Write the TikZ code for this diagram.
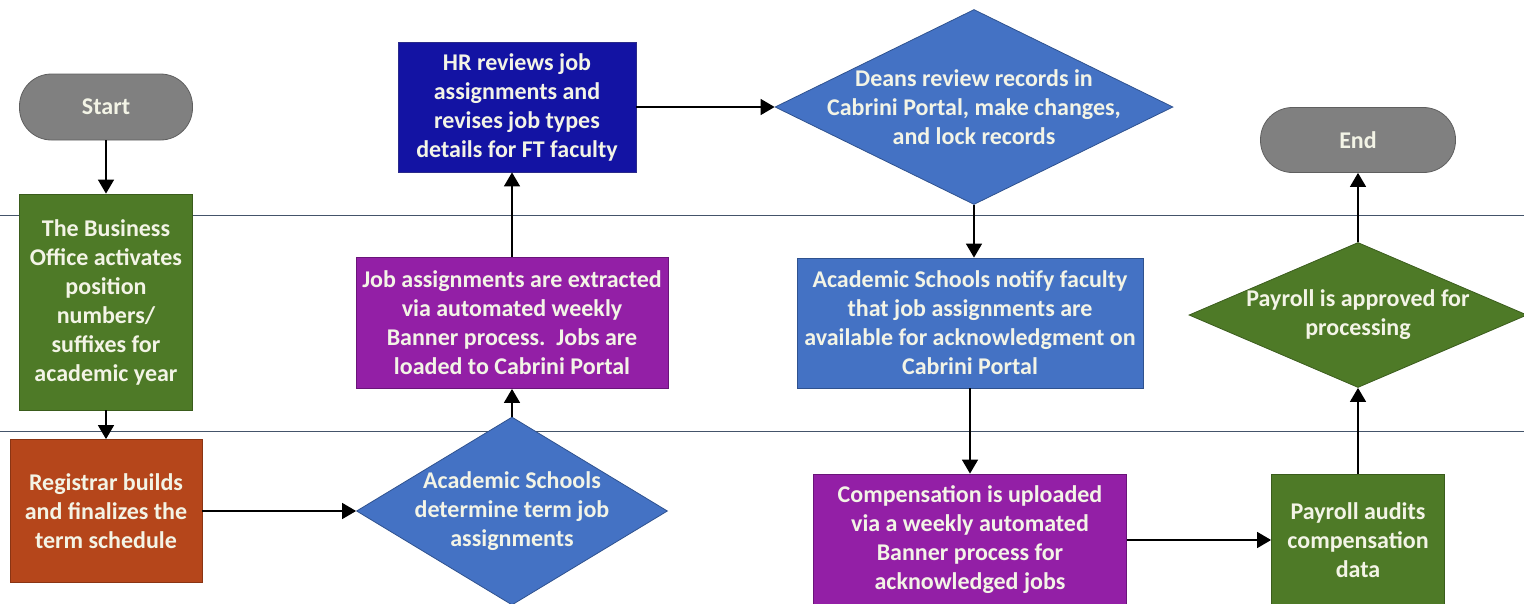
\documentclass[tikz,border=0pt]{standalone}
\usepackage{fontspec}
\setmainfont{Carlito}
\usepackage{tikz}
\usetikzlibrary{positioning, shapes.geometric, arrows.meta}
\definecolor{termgray}{HTML}{808080}
\definecolor{termline}{HTML}{5f5f5f}
\definecolor{bizgreen}{HTML}{4E7A27}
\definecolor{greenline}{HTML}{3A5C1C}
\definecolor{regrust}{HTML}{B5461B}
\definecolor{rustline}{HTML}{8A3413}
\definecolor{procblue}{HTML}{4472C4}
\definecolor{blueline}{HTML}{2F528F}
\definecolor{hrblue}{HTML}{1313A3}
\definecolor{hrline}{HTML}{2A2A8A}
\definecolor{portalpurple}{HTML}{931FA6}
\definecolor{purpleline}{HTML}{6A1479}
\definecolor{laneline}{HTML}{44546A}
\definecolor{boxtext}{HTML}{F3F4E6}

\begin{document}
\begin{tikzpicture}[x=1pt, y=-1pt,
 font=\bfseries\fontsize{24}{29}\selectfont,
 box/.style={draw, line width=0.8pt, text=boxtext, align=center, inner sep=0pt},
 term/.style={box, rounded corners=32pt, fill=termgray, draw=termline},
 dia/.style={box, diamond, inner sep=0pt},
 lane/.style={draw=laneline, line width=1pt},
 flow/.style={-{Triangle[width=16pt,length=14pt]}, line width=1.5pt}]
\useasboundingbox (0,0) rectangle (1524,603);

\draw[lane] (0,215) -- (1524,215);
\draw[lane] (0,431) -- (1524,431);

\node[term, minimum width=173pt, minimum height=66pt] (start) at (106,107) {Start};
\node[box, fill=bizgreen, draw=greenline, minimum width=173pt, minimum height=216pt] (bus) at (106,302)
  {The Business\\Office activates\\position\\numbers/\\suffixes for\\academic year};
\node[box, fill=regrust, draw=rustline, minimum width=192pt, minimum height=143pt] (reg) at (106,511)
  {Registrar builds\\and finalizes the\\term schedule};
\node[dia, fill=procblue, draw=blueline, minimum width=311pt, minimum height=188pt,
  label={[text=boxtext, align=center]center:Academic Schools\\determine term job\\assignments}] (acad) at (512,511) {};
\node[box, fill=portalpurple, draw=purpleline, minimum width=312pt, minimum height=131pt] (job) at (512,323)
  {Job assignments are extracted\\via automated weekly\\Banner process.\ \ Jobs are\\loaded to Cabrini Portal};
\node[box, fill=hrblue, draw=hrline, minimum width=238pt, minimum height=130pt] (hr) at (517,107)
  {HR reviews job\\assignments and\\revises job types\\details for FT faculty};
\node[dia, fill=procblue, draw=blueline, minimum width=398pt, minimum height=195pt,
  label={[text=boxtext, align=center]center:Deans review records in\\Cabrini Portal, make changes,\\and lock records}] (deans) at (974,107) {};
\node[box, fill=procblue, draw=blueline, minimum width=346pt, minimum height=130pt] (notify) at (970,323)
  {Academic Schools notify faculty\\that job assignments are\\available for acknowledgment on\\Cabrini Portal};
\node[box, fill=portalpurple, draw=purpleline, minimum width=313pt, minimum height=132pt] (comp) at (970,540)
  {Compensation is uploaded\\via a weekly automated\\Banner process for\\acknowledged jobs};
\node[box, fill=bizgreen, draw=greenline, minimum width=173pt, minimum height=132pt] (audit) at (1358,540)
  {Payroll audits\\compensation\\data};
\node[dia, fill=bizgreen, draw=greenline, minimum width=338pt, minimum height=145pt,
  label={[text=boxtext, align=center]center:Payroll is approved for\\processing}] (appr) at (1358,315) {};
\node[term, minimum width=195pt, minimum height=65pt] (end) at (1358,140) {End};

\draw[flow] (start) -- (bus);
\draw[flow] (bus) -- (reg);
\draw[flow] (reg) -- (acad);
\draw[flow] (acad) -- (job);
\draw[flow] (job) -- (job |- hr.south);
\draw[flow] (hr) -- (deans);
\draw[flow] (deans) -- (deans |- notify.north);
\draw[flow] (notify) -- (comp);
\draw[flow] (comp) -- (audit);
\draw[flow] (audit) -- (appr);
\draw[flow] (appr) -- (end);

\end{tikzpicture}
\end{document}
